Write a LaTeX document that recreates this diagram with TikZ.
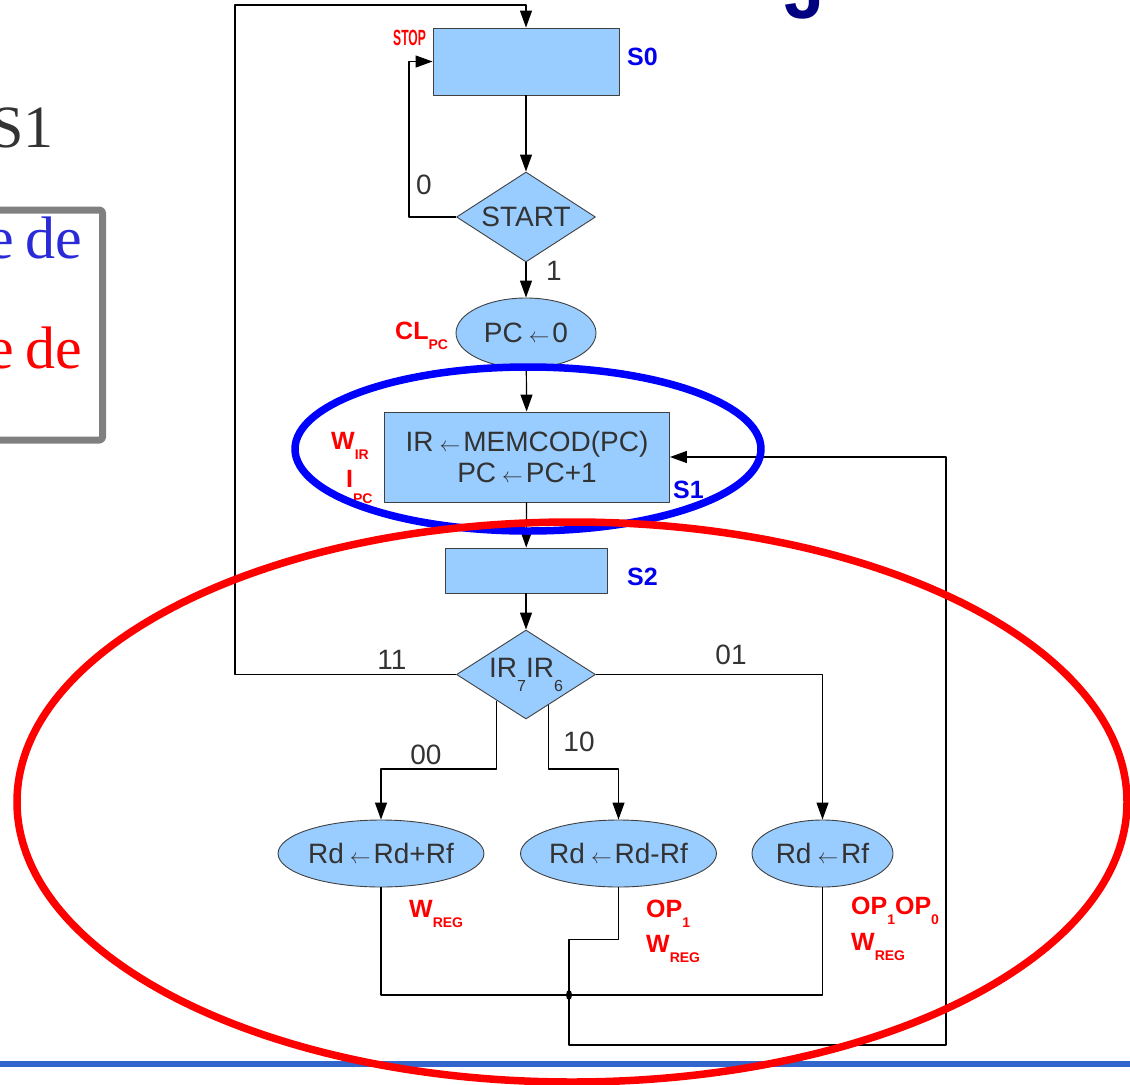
\documentclass[tikz,border=0pt]{standalone}
\usepackage{graphicx}
\usepackage{fontspec}
\setmainfont{Liberation Sans}
\newfontfamily\serifbig{Liberation Serif}
\usetikzlibrary{shapes.geometric,arrows.meta}
\definecolor{boxblue}{HTML}{99CCFF}
\definecolor{txtgray}{HTML}{333333}
\definecolor{sblue}{HTML}{0000EE}
\definecolor{txtblue}{HTML}{2A2AD8}
\definecolor{navy}{HTML}{000080}
\definecolor{rulebl}{HTML}{3366CC}
\newcommand\larr{\kern6bp{\fontsize{20bp}{20bp}\selectfont$\leftarrow$}\kern3bp}
\newcommand\sig[2]{#1\raisebox{-10bp}{\fontsize{14bp}{14bp}\selectfont #2}}
\newcommand\dsub[1]{\raisebox{-14bp}[0pt][13bp]{\fontsize{16bp}{16bp}\selectfont #1}}
\begin{document}
\begin{tikzpicture}[x=1bp,y=-1bp,>={Triangle[length=17bp,width=12bp]},line join=round,
    font=\fontsize{28bp}{31bp}\selectfont,
    box/.style={draw=black!75,line width=.9bp,fill=boxblue,text=txtgray,inner sep=0pt},
    cond/.style={box,diamond,aspect=1.54,minimum width=139bp,minimum height=90bp},
    act/.style={box,ellipse},
    ctl/.style={text=red,font=\fontsize{25bp}{27bp}\selectfont\bfseries,inner sep=0pt,anchor=base west},
    st/.style={text=sblue,font=\fontsize{25bp}{27bp}\selectfont\bfseries,inner sep=0pt,anchor=base west},
    bit/.style={text=txtgray,inner sep=0pt},
    flow/.style={line width=1.2bp}]
    \useasboundingbox (0,0) rectangle (1130,1085);
    \clip (0,0) rectangle (1130,1085);
    % what is left of the slide
    \node[anchor=base east,inner sep=0pt,text=txtgray,font=\serifbig\fontsize{60bp}{64bp}\selectfont] (ttl) at (54,147) {S1};
    \node[anchor=base west,inner sep=0pt,text=navy,font=\fontsize{72bp}{72bp}\selectfont\bfseries] (ttlj) at (784,18) {J};
    \draw[line width=7bp,gray,rounded corners=3bp] (-30,210) rectangle (102.5,440);
    \node[anchor=base east,inner sep=0pt,text=txtblue,font=\serifbig\fontsize{60bp}{64bp}\selectfont] (ede1) at (82,258) {e\hspace{11bp}de};
    \node[anchor=base east,inner sep=0pt,text=red,font=\serifbig\fontsize{60bp}{64bp}\selectfont] (ede2) at (82,368) {e\hspace{11bp}de};
    % states and tests
    \node[box,minimum width=186bp,minimum height=67bp] (s0) at (526,61.5) {};
    \node[cond] (start) at (526,217) {START};
    \node[act,minimum width=140bp,minimum height=70bp] (pc0) at (526,333) {PC\larr 0};
    \node[box,minimum width=285bp,minimum height=90bp,align=center] (s1) at (527,457) {IR\larr MEMCOD(PC)\\PC\larr PC+1};
    \node[box,minimum width=162bp,minimum height=45bp] (s2) at (526,570.5) {};
    \node[cond,minimum height=89bp] (ir) at (526,674.5) {IR\dsub{7}IR\dsub{6}};
    \node[act,minimum width=184bp,minimum height=67bp] (add) at (381,853.5) {Rd\larr Rd+Rf};
    \node[act,minimum width=187bp,minimum height=67bp] (sub) at (618.5,853.5) {Rd\larr Rd-Rf};
    \node[act,minimum width=141bp,minimum height=67bp] (mov) at (822.5,853.5) {Rd\larr Rf};
    % state names and control signals
    \node[st] (ls0) at (627,65) {S0};
    \node[st] (ls1) at (673,498) {S1};
    \node[st] (ls2) at (627,585) {S2};
    \node[ctl] (stop) at (393,45) {\fontsize{22bp}{22bp}\selectfont\scalebox{0.55}[1]{STOP}};
    \node[ctl] (clpc) at (395,339) {\sig{CL}{PC}};
    \node[ctl] (wir) at (331,449) {\sig{W}{IR}};
    \node[ctl] (ipc) at (346,487) {I\raisebox{-16bp}{\fontsize{14bp}{14bp}\selectfont PC}};
    \node[ctl] (wreg1) at (409,917) {\sig{W}{REG}};
    \node[ctl] (op1) at (646,917) {\sig{OP}{1}};
    \node[ctl] (wreg2) at (646,952) {\sig{W}{REG}};
    \node[ctl] (op10) at (851,914) {\sig{OP}{1}\sig{OP}{0}};
    \node[ctl] (wreg3) at (851,950) {\sig{W}{REG}};
    % branch values
    \node[bit] (b0) at (424,185) {0};
    \node[bit] (b1) at (554,271) {1};
    \node[bit] (b11) at (392,660) {11};
    \node[bit] (b00) at (426,755) {00};
    \node[bit] (b10) at (579,742) {10};
    \node[bit] (b01) at (731,655) {01};
    % connectors
    \coordinate (tl) at (235,5);
    \coordinate (tr) at (526,5);
    \coordinate (jn) at (569,995);
    \coordinate (rt) at (946,1045);
    \draw[flow,->] (ir.west) -| (tl) -- (tr) -- (s0.north);
    \draw[flow,->] (start.west) -- ++(-47,0) |- (s0.west);
    \draw[flow,->] (s0) -- (start);
    \draw[flow,->] (start) -- (pc0);
    \draw[flow,->] (pc0) -- (s1);
    \draw[flow,->] (s1) -- (s2);
    \draw[flow,->] (s2) -- (ir);
    \draw[flow,->] (ir.222) -- (ir.222 |- 0,769) -| (add.north);
    \draw[flow,->] (ir.306) -- (ir.306 |- 0,769) -| (sub.north);
    \draw[flow,->] (ir.east) -| (mov.north);
    \draw[flow] (add.south) -- (add.south |- jn) -| (mov.south);
    \draw[flow,->] (sub.south) -- ++(0,52) -| (jn) |- (rt) |- (s1.east);
    \fill (jn) ellipse (3 and 5);
    % grouping marks
    \draw[line width=7.5bp,blue] (528,449) ellipse (233 and 82);
    \draw[rulebl,line width=6bp] (0,1064) -- (1130,1064);
    \draw[line width=7.5bp,red] (572,802) ellipse (555 and 280);
\end{tikzpicture}
\end{document}
